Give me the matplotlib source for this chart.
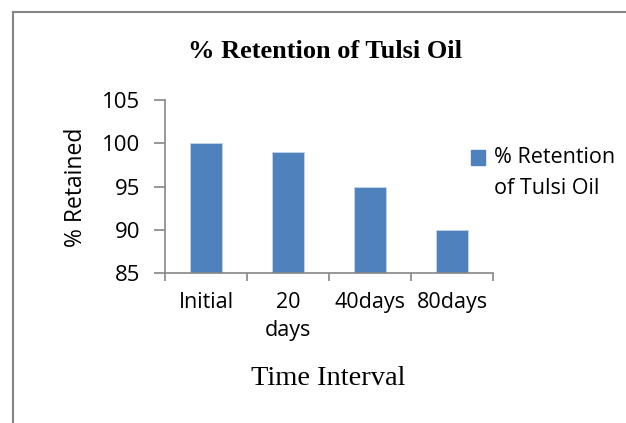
import matplotlib.pyplot as plt
from matplotlib.lines import Line2D
from matplotlib.patches import Rectangle

categorias = ["Initial", "20\ndays", "40days", "80days"]
retenido = [100, 99, 95, 90]
serie = "% Retention\nof Tulsi Oil"
yticks = [85, 90, 95, 100, 105]

W, H = 626, 423
fig = plt.figure(figsize=(W / 100, H / 100), dpi=100)

# posicion del eje en pixeles
x0, x1, ytop, ybot = 165, 493, 100, 273
ax = fig.add_axes([x0 / W, 1 - ybot / H, (x1 - x0) / W, (ybot - ytop) / H])

gris = "#868686"
azul = "#4f81bd"
sans = "Open Sans"
serif = "Liberation Serif"
ax.bar(range(len(categorias)), retenido, width=0.39, color=azul,
       edgecolor="#c5d5ea", linewidth=0.6, zorder=2)
ax.set_xlim(-0.5, len(categorias) - 0.5)
ax.set_ylim(85, 105)
ax.set_yticks(yticks)
ax.set_yticklabels([str(v) for v in yticks], fontsize=16, family=sans)
ax.set_xticks([i - 0.5 for i in range(len(categorias) + 1)])
ax.set_xticklabels([])
ax.set_xticks(range(len(categorias)), minor=True)
ax.set_xticklabels(categorias, minor=True, fontsize=15.5, family=sans,
                   linespacing=1.4, va="top")
ax.tick_params(axis="x", which="minor", length=0, pad=14)
ax.tick_params(axis="x", which="major", length=6, color=gris, width=1.2)
ax.tick_params(axis="y", length=8, color=gris, width=1.2, pad=10)

for s in ["top", "right"]:
    ax.spines[s].set_visible(False)
for s in ["left", "bottom"]:
    ax.spines[s].set_color(gris)
    ax.spines[s].set_linewidth(1.2)

fig.text(76 / W, 1 - 187 / H, "% Retained", rotation=90, ha="center",
         va="center", fontsize=16.5, family=sans)
fig.text(328 / W, 1 - 378 / H, "Time Interval", ha="center", va="center",
         fontsize=20.5, family=serif)
fig.text(325 / W, 1 - 52 / H, "% Retention of Tulsi Oil", ha="center",
         va="center", fontsize=19, fontweight="bold", family=serif)

# leyenda a mano: cuadro alineado con la primera linea
fig.add_artist(Rectangle((471 / W, 1 - 165 / H), 14 / W, 15 / H,
                         transform=fig.transFigure, color=azul))
fig.text(494 / W, 1 - 147 / H, serie, ha="left", va="top", fontsize=15.5,
         family=sans, linespacing=1.6)

# borde del grafico
fig.add_artist(Line2D([13 / W, 13 / W], [0, 1 - 12 / H], color=gris, lw=1.5))
fig.add_artist(Line2D([13 / W, 1], [1 - 12 / H, 1 - 12 / H], color=gris, lw=1.5))

fig.savefig("out.png", dpi=100)
